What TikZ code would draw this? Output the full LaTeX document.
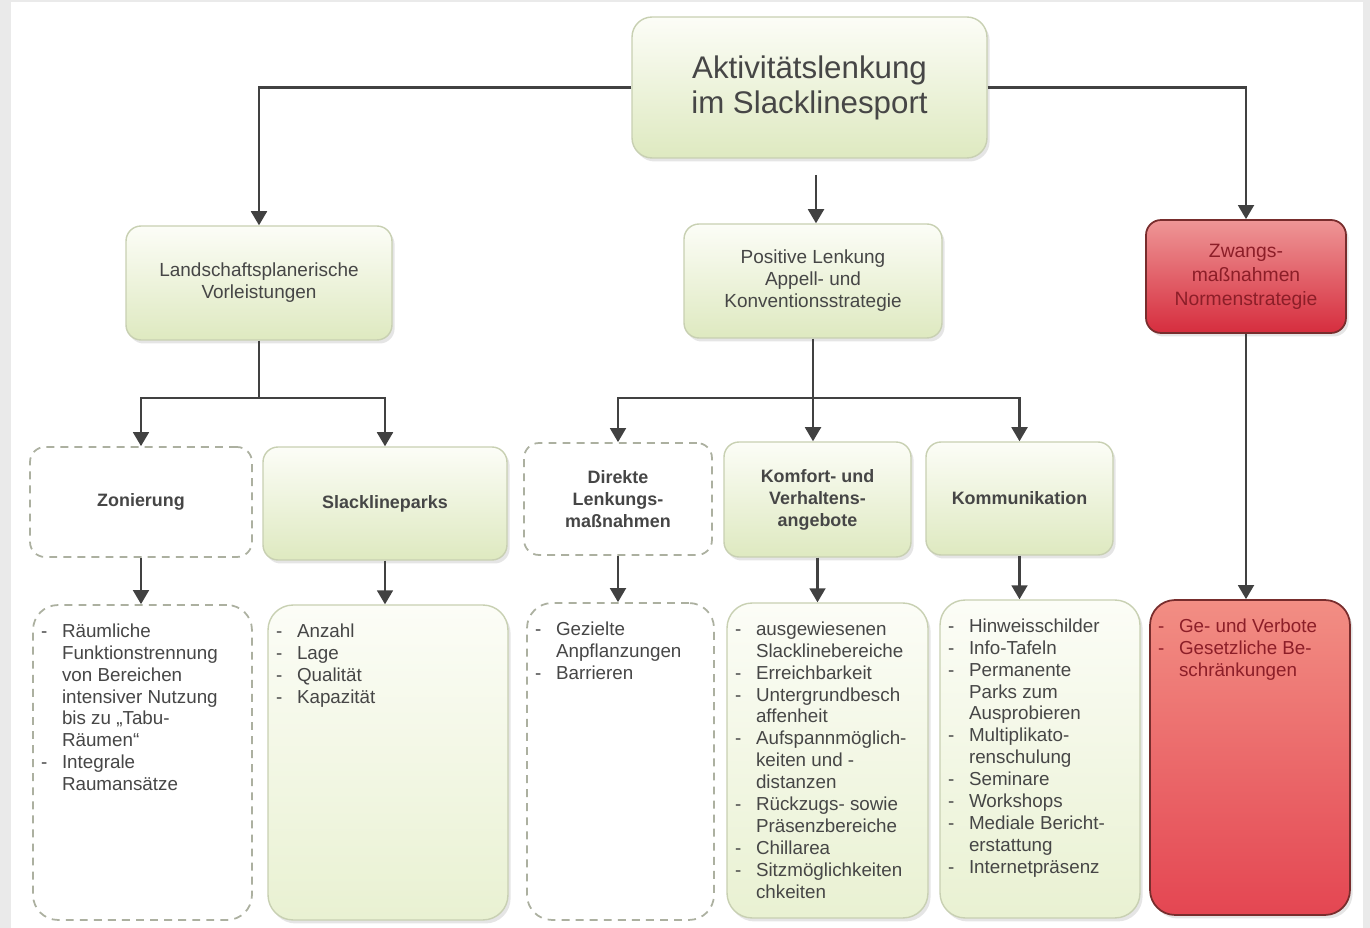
\documentclass[tikz,border=0pt]{standalone}
\usepackage{fontspec}
\setmainfont{Liberation Sans}
\usepackage{tikz}
\usetikzlibrary{arrows.meta,positioning,shadows}

\definecolor{textgray}{RGB}{70,70,70}
\definecolor{boxline}{RGB}{200,208,178}
\definecolor{dashgray}{RGB}{172,176,160}
\definecolor{greentop}{RGB}{252,253,247}
\definecolor{greenbot}{RGB}{222,233,192}
\definecolor{greenlow}{RGB}{233,241,210}
\definecolor{redtop}{RGB}{238,150,150}
\definecolor{redbot}{RGB}{214,45,62}
\definecolor{redhigh}{RGB}{242,142,132}
\definecolor{redlow}{RGB}{228,70,82}
\definecolor{redline}{RGB}{120,45,45}
\definecolor{redtext}{RGB}{140,30,40}
\definecolor{arrowgray}{RGB}{65,65,65}
\definecolor{framegray}{RGB}{234,234,234}

\newenvironment{dashlist}{%
  \begin{list}{-}{\leftmargin=0.42cm \labelwidth=0.2cm \labelsep=0.22cm
    \itemsep=0pt \parsep=0pt \topsep=0pt \partopsep=0pt
    \renewcommand{\makelabel}[1]{##1\hfil}}}{\end{list}}
\newcommand{\itemsbox}[3]{\parbox[c][#2][t]{#1}{\raggedright\vspace*{0.17cm}
  \begin{dashlist}#3\end{dashlist}}}

\begin{document}
\begin{tikzpicture}[
  x=0.02cm, y=-0.02cm,
  greenbox/.style={rectangle, draw=boxline, line width=0.8pt, rounded corners=#1,
                   top color=greentop, bottom color=greenbot, align=center, text=textgray,
                   drop shadow={shadow xshift=1.5pt, shadow yshift=-2pt, opacity=0.2}},
  greenbox/.default=0.3cm,
  dashbox/.style={rectangle, draw=dashgray, line width=1pt, dash pattern=on 4.5pt off 3.5pt,
                  rounded corners=#1, fill=white, align=center, text=textgray},
  dashbox/.default=0.3cm,
  redbox/.style={rectangle, draw=redline, line width=1pt, rounded corners=#1,
                 top color=redtop, bottom color=redbot, align=center, text=redtext,
                 drop shadow={shadow xshift=1.5pt, shadow yshift=-2pt, opacity=0.2}},
  redbox/.default=0.3cm,
  arrow/.style={-{Triangle[width=9pt,length=8pt]}, line width=1.4pt, color=arrowgray},
  link/.style={line width=1.4pt, color=arrowgray},
  head/.style={font=\fontsize{10.8}{12.5}\selectfont},
  sub/.style={font=\bfseries\fontsize{10.2}{12.5}\selectfont},
  items/.style={font=\fontsize{10.7}{12.5}\selectfont, inner sep=0pt}
]
  \useasboundingbox (0,0) rectangle (1370,928);
  \fill[framegray] (0,0) rectangle (1370,928);
  \fill[white] (11,2) rectangle (1363,928);

  % top level
  \node[greenbox=0.4cm, minimum width=7.1cm, minimum height=2.82cm,
        font=\fontsize{17.8}{20}\selectfont] (root) at (809.5,87.5)
        {Aktivitätslenkung\\im Slacklinesport};

  \node[greenbox, head, minimum width=5.32cm, minimum height=2.28cm] (landsch) at (259,283)
        {Landschaftsplanerische\\Vorleistungen};
  \node[greenbox, head, minimum width=5.16cm, minimum height=2.28cm] (positive) at (813,281)
        {Positive Lenkung\\Appell- und\\Konventionsstrategie};
  \node[redbox, font=\fontsize{11}{13.6}\selectfont, minimum width=4cm, minimum height=2.26cm] (zwang) at (1246,276.5)
        {Zwangs-\\maßnahmen\\Normenstrategie};

  % second level
  \node[dashbox, sub, minimum width=4.44cm, minimum height=2.2cm] (zon) at (141,502) {Zonierung};
  \node[greenbox, sub, minimum width=4.88cm, minimum height=2.26cm] (parks) at (385,503.5) {Slacklineparks};
  \node[dashbox, sub, minimum width=3.76cm, minimum height=2.24cm] (direkt) at (618,499)
        {Direkte\\Lenkungs-\\maßnahmen};
  \node[greenbox, sub, minimum width=3.74cm, minimum height=2.3cm] (komfort) at (817.5,499.5)
        {Komfort- und\\Verhaltens-\\angebote};
  \node[greenbox, sub, minimum width=3.74cm, minimum height=2.26cm] (komm) at (1019.5,498.5)
        {Kommunikation};

  % lists
  \node[dashbox=0.5cm, items, minimum width=4.38cm, minimum height=6.3cm] (zonL) at (142.5,762.5)
        {\itemsbox{4.06cm}{5.9cm}{\item Räumliche\\Funktionstrennung\\von Bereichen\\intensiver Nutzung\\bis zu „Tabu-\\Räumen“
         \item Integrale\\Raumansätze}};
  \node[greenbox=0.5cm, bottom color=greenlow, items, minimum width=4.8cm, minimum height=6.3cm] (parksL) at (388,762.5)
        {\itemsbox{4.48cm}{5.9cm}{\item Anzahl \item Lage \item Qualität \item Kapazität}};
  \node[dashbox=0.5cm, items, minimum width=3.74cm, minimum height=6.34cm] (direktL) at (620.5,761.5)
        {\itemsbox{3.42cm}{5.94cm}{\item Gezielte\\Anpflanzungen \item Barrieren}};
  \node[greenbox=0.5cm, bottom color=greenlow, items, minimum width=4.02cm, minimum height=6.3cm] (komfortL) at (827.5,760.5)
        {\itemsbox{3.7cm}{5.9cm}{\item ausgewiesenen\\Slacklinebereiche
         \item Erreichbarkeit
         \item Untergrundbesch\\affenheit
         \item Aufspannmöglich-\\keiten und -\\distanzen
         \item Rückzugs- sowie\\Präsenzbereiche
         \item Chillarea
         \item Sitzmöglichkeiten\\chkeiten}};
  \node[greenbox=0.5cm, bottom color=greenlow, items, minimum width=4cm, minimum height=6.36cm] (kommL) at (1040,759)
        {\itemsbox{3.68cm}{5.96cm}{\item Hinweisschilder
         \item Info-Tafeln
         \item Permanente\\Parks zum\\Ausprobieren
         \item Multiplikato-\\renschulung
         \item Seminare
         \item Workshops
         \item Mediale Bericht-\\erstattung
         \item Internetpräsenz}};
  \node[redbox=0.5cm, top color=redhigh, bottom color=redlow, items, minimum width=4cm, minimum height=6.3cm] (zwangL) at (1250,757.5)
        {\itemsbox{3.68cm}{5.9cm}{\item Ge- und Verbote
         \item Gesetzliche Be-\\schränkungen}};

  \coordinate (rootdown) at (816,175);
  \coordinate (lsplit) at (259,398);
  \coordinate (psplit) at (813,398);

  % Arrows
  \draw[arrow] (root.west) -| (landsch.north);
  \draw[arrow] (root.east) -| (zwang.north);
  \draw[arrow] (rootdown) -- (rootdown |- positive.north);

  \draw[link] (landsch.south) -- (lsplit);
  \draw[arrow] (lsplit) -| (zon.north);
  \draw[arrow] (lsplit) -| (parks.north);

  \draw[arrow] (positive.south) -- (positive.south |- komfort.north);
  \draw[arrow] (psplit) -| (direkt.north);
  \draw[arrow] (psplit) -| (komm.north);

  \draw[arrow] (zon.south) -- (zon.south |- zonL.north);
  \draw[arrow] (parks.south) -- (parks.south |- parksL.north);
  \draw[arrow] (direkt.south) -- (direkt.south |- direktL.north);
  \draw[arrow] (komfort.south) -- (komfort.south |- komfortL.north);
  \draw[arrow] (komm.south) -- (komm.south |- kommL.north);
  \draw[arrow] (zwang.south) -- (zwang.south |- zwangL.north);
\end{tikzpicture}
\end{document}
